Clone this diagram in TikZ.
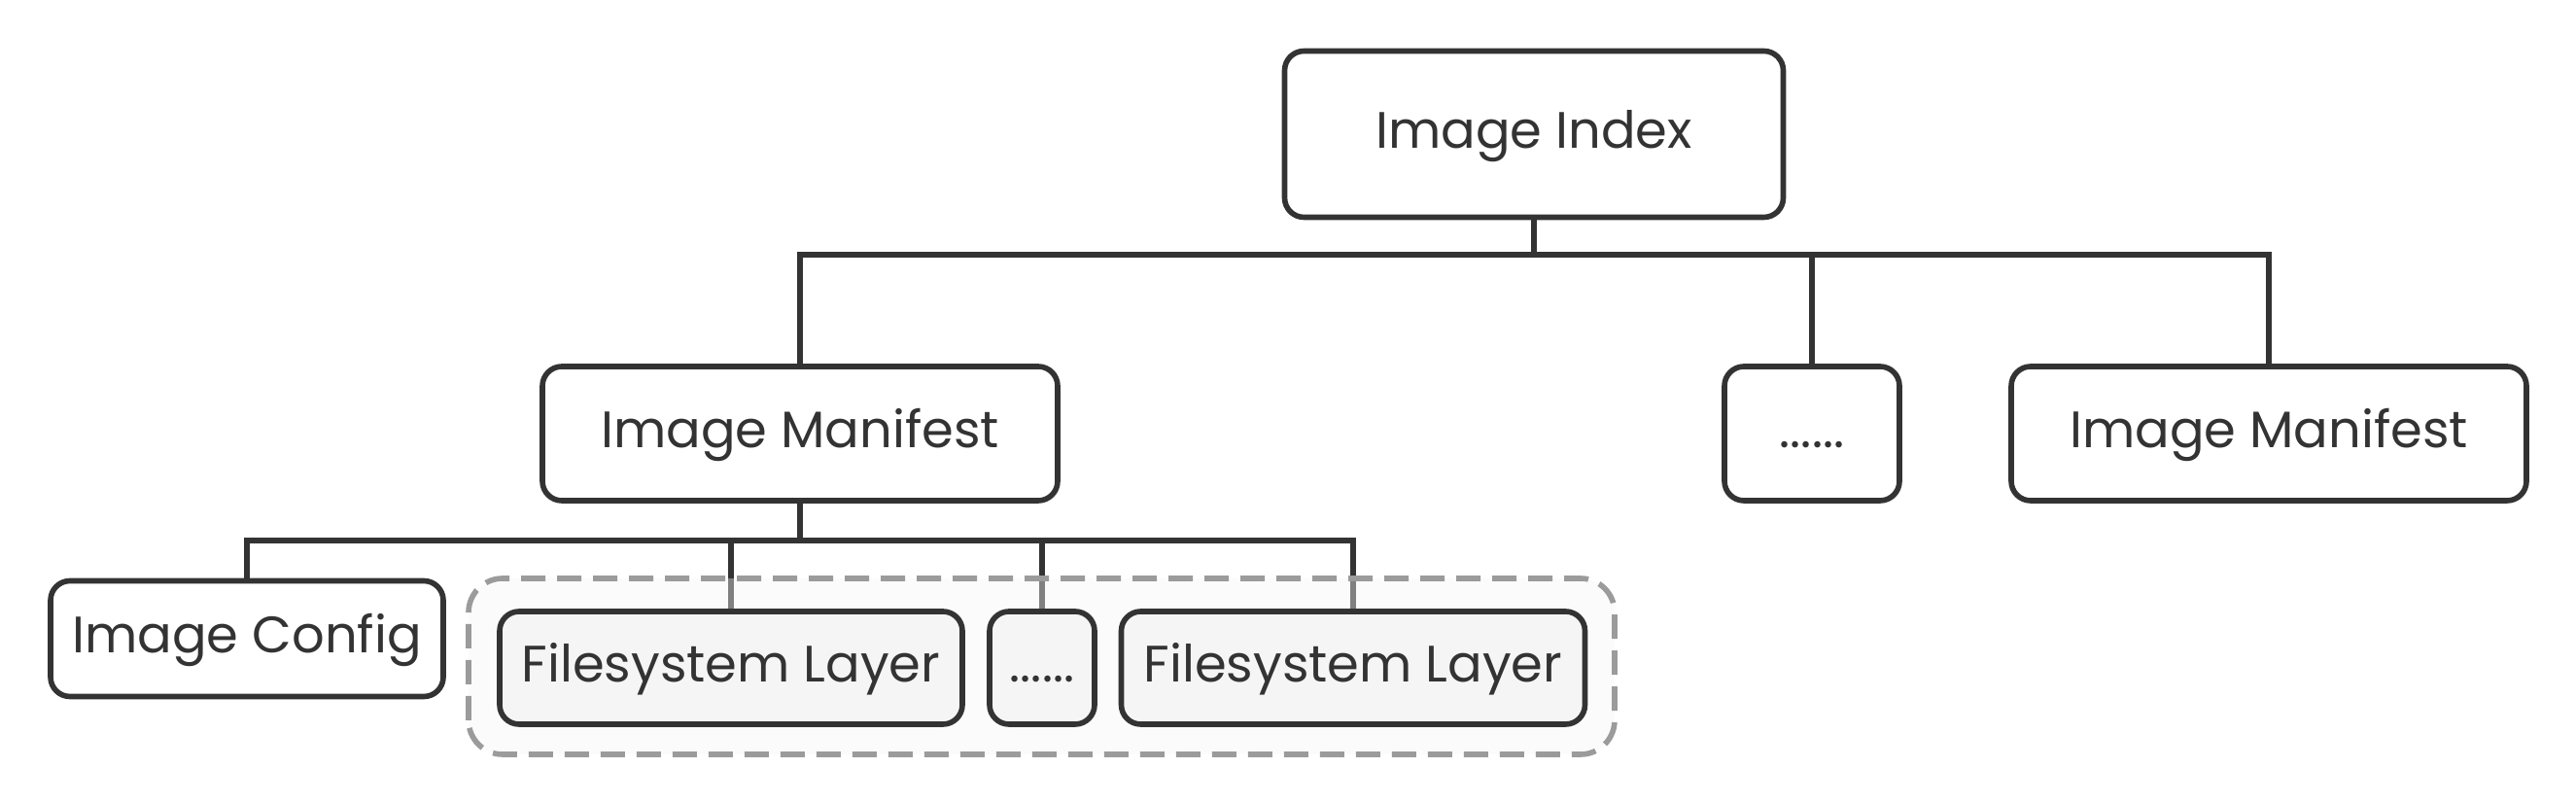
\documentclass[tikz,border=0pt]{standalone}
\usepackage{fontspec}
\setmainfont{Poppins}
\usepackage{xcolor}
\definecolor{ink}{HTML}{333333}
\definecolor{dashgray}{HTML}{9B9B9B}
\definecolor{paper}{HTML}{F5F5F5}
\pgfdeclarelayer{wires}
\pgfdeclarelayer{group}
\pgfsetlayers{wires,group,main}

\begin{document}
\begin{tikzpicture}[
	box/.style={draw=ink,line width=1.6pt,rounded corners=0.2cm,fill=white,text=ink,
		font=\fontsize{15}{18}\selectfont,inner sep=0pt,text height=0.85em,text depth=0pt,minimum height=1.38cm},
	layerbox/.style={box,fill=paper,minimum height=1.16cm},
	wire/.style={draw=ink,line width=1.5pt}]
	\useasboundingbox (0,0) rectangle (26.5,8.26);
	% niveau 1
	\node[box,minimum width=5.13cm,minimum height=1.71cm] (index) at (15.78,6.88) {Image Index};
	% niveau 2
	\node[box,minimum width=5.30cm] (manifestA) at (8.23,3.80) {Image Manifest};
	\node[box,minimum width=1.80cm] (moreManifests) at (18.64,3.80) {......};
	\node[box,minimum width=5.30cm] (manifestB) at (23.34,3.80) {Image Manifest};
	% niveau 3
	\node[box,minimum width=4.04cm,minimum height=1.19cm] (config) at (2.54,1.69) {Image Config};
	\node[layerbox,minimum width=4.76cm] (layerA) at (7.52,1.39) {Filesystem Layer};
	\node[layerbox,minimum width=1.08cm] (moreLayers) at (10.72,1.39) {......};
	\node[layerbox,minimum width=4.77cm] (layerB) at (13.92,1.39) {Filesystem Layer};
	\coordinate (busTop) at (15.78,5.64);
	\coordinate (busLow) at (8.23,2.70);
	\begin{pgfonlayer}{group}
		\draw[dashgray,fill=paper,fill opacity=0.4,line width=1.6pt,dash pattern=on 0.25cm off 0.12cm,rounded corners=0.35cm]
			(4.82,0.50) rectangle (16.61,2.31); % les couches
	\end{pgfonlayer}
	\begin{pgfonlayer}{wires}
		\draw[wire] (index.south) -- (busTop) -| (manifestA.north);
		\draw[wire] (busTop) -| (moreManifests.north);
		\draw[wire] (busTop) -| (manifestB.north);
		\draw[wire] (manifestA.south) -- (busLow) -| (config.north);
		\foreach \n in {layerA,moreLayers,layerB}
			\draw[wire] (busLow) -| (\n.north);
	\end{pgfonlayer}
\end{tikzpicture}
\end{document}
